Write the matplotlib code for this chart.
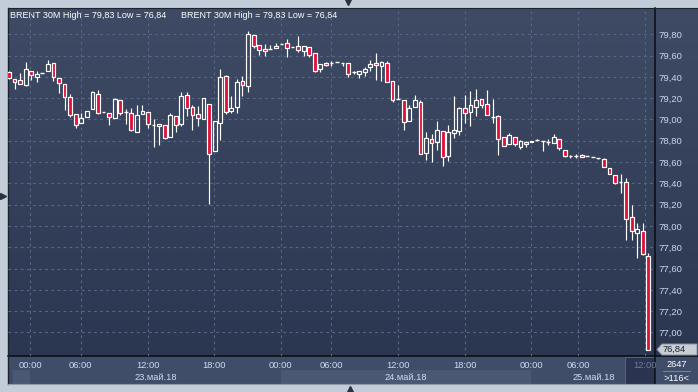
import numpy as np
import matplotlib
matplotlib.use('Agg')
import matplotlib.pyplot as plt
from matplotlib.patches import Rectangle, Polygon

# ---------------- data ----------------
opens = [79.45, 79.38, 79.37, 79.32, 79.46, 79.40, 79.44, 79.46, 79.53, 79.39,
         79.33, 79.21, 79.05, 78.97, 79.02, 79.10, 79.24, 79.07, 79.06, 79.01,
         79.18, 79.07, 79.06, 78.88, 79.05, 79.07, 78.95, 78.94, 78.95, 78.84,
         79.03, 78.96, 79.23, 79.12, 79.05, 79.00, 79.15, 78.70, 78.97, 79.41,
         79.08, 79.12, 79.36, 79.31, 79.79, 79.70, 79.66, 79.66, 79.67, 79.71,
         79.72, 79.68, 79.69, 79.64, 79.68, 79.62, 79.47, 79.53, 79.53, 79.54,
         79.53, 79.53, 79.45, 79.43, 79.45, 79.49, 79.53, 79.50, 79.53, 79.36,
         79.19, 79.18, 78.99, 79.12, 79.16, 78.69, 78.82, 78.79, 78.89, 78.66,
         78.87, 78.89, 79.11, 79.07, 79.12, 79.19, 79.15, 79.02, 79.03, 78.84,
         78.77, 78.84, 78.74, 78.79, 78.79, 78.81, 78.80, 78.79, 78.78, 78.82,
         78.71, 78.66, 78.66, 78.67, 78.66, 78.65, 78.64, 78.63, 78.54, 78.48,
         78.41, 78.41, 78.08, 77.93, 77.95, 77.72]
highs = [79.46, 79.38, 79.44, 79.54, 79.46, 79.46, 79.44, 79.56, 79.53, 79.39,
         79.33, 79.24, 79.05, 79.06, 79.08, 79.27, 79.28, 79.07, 79.06, 79.20,
         79.18, 79.10, 79.11, 79.14, 79.14, 79.07, 79.00, 78.96, 78.95, 79.06,
         79.03, 79.26, 79.26, 79.14, 79.13, 79.20, 79.15, 78.99, 79.47, 79.42,
         79.22, 79.38, 79.41, 79.83, 79.79, 79.70, 79.71, 79.70, 79.72, 79.71,
         79.76, 79.68, 79.78, 79.69, 79.68, 79.62, 79.52, 79.54, 79.55, 79.54,
         79.53, 79.53, 79.46, 79.46, 79.49, 79.56, 79.62, 79.55, 79.55, 79.36,
         79.32, 79.18, 79.14, 79.23, 79.18, 78.88, 78.86, 78.99, 78.89, 78.95,
         79.22, 79.12, 79.23, 79.27, 79.29, 79.19, 79.28, 79.19, 79.04, 78.84,
         78.87, 78.84, 78.81, 78.80, 78.80, 78.82, 78.80, 78.82, 78.86, 78.82,
         78.71, 78.67, 78.68, 78.68, 78.66, 78.65, 78.64, 78.64, 78.54, 78.48,
         78.49, 78.45, 78.20, 78.03, 78.03, 77.75]
lows = [79.38, 79.29, 79.33, 79.31, 79.37, 79.35, 79.44, 79.46, 79.36, 79.25,
        79.09, 79.02, 78.92, 78.97, 79.02, 79.10, 79.05, 79.07, 78.95, 79.01,
        79.04, 78.96, 78.89, 78.88, 79.05, 78.92, 78.74, 78.76, 78.82, 78.84,
        78.88, 78.94, 79.03, 78.90, 78.94, 79.00, 78.21, 78.70, 78.81, 79.05,
        79.06, 79.06, 79.22, 79.26, 79.67, 79.61, 79.60, 79.66, 79.67, 79.71,
        79.59, 79.68, 79.63, 79.60, 79.59, 79.45, 79.45, 79.50, 79.50, 79.54,
        79.50, 79.40, 79.43, 79.39, 79.41, 79.46, 79.37, 79.36, 79.35, 79.16,
        79.19, 78.90, 78.99, 79.12, 78.68, 78.62, 78.60, 78.71, 78.56, 78.61,
        78.83, 78.85, 78.97, 78.94, 79.03, 79.11, 79.04, 78.97, 78.67, 78.75,
        78.77, 78.75, 78.72, 78.74, 78.79, 78.80, 78.70, 78.76, 78.78, 78.71,
        78.65, 78.64, 78.64, 78.65, 78.66, 78.65, 78.63, 78.55, 78.49, 78.39,
        78.31, 77.87, 77.87, 77.70, 77.73, 76.84]
closes = [79.39, 79.35, 79.33, 79.47, 79.42, 79.43, 79.44, 79.52, 79.40, 79.34,
          79.21, 79.04, 78.95, 79.01, 79.08, 79.26, 79.06, 79.07, 79.02, 79.19,
          79.06, 79.07, 78.90, 79.04, 79.08, 78.96, 78.95, 78.96, 78.83, 79.04,
          78.95, 79.22, 79.11, 79.04, 79.01, 79.20, 78.68, 78.99, 79.40, 79.07,
          79.11, 79.35, 79.32, 79.80, 79.69, 79.65, 79.64, 79.66, 79.69, 79.71,
          79.67, 79.68, 79.65, 79.69, 79.61, 79.46, 79.52, 79.51, 79.53, 79.54,
          79.53, 79.43, 79.45, 79.46, 79.47, 79.52, 79.51, 79.54, 79.35, 79.18,
          79.19, 78.98, 79.11, 79.18, 78.68, 78.83, 78.78, 78.90, 78.65, 78.88,
          78.90, 79.11, 79.06, 79.14, 79.18, 79.14, 79.04, 79.02, 78.82, 78.75,
          78.85, 78.77, 78.80, 78.77, 78.80, 78.81, 78.80, 78.79, 78.84, 78.73,
          78.66, 78.66, 78.66, 78.65, 78.66, 78.65, 78.64, 78.55, 78.49, 78.40,
          78.41, 78.07, 77.95, 77.97, 77.74, 76.84]

time_labels = ['00:00', '06:00', '12:00', '18:00', '00:00', '06:00',
               '12:00', '18:00', '00:00', '06:00', '12:00']
date_labels = ['23.май.18', '24.май.18', '25.май.18']
price_ticks = [77.0, 77.2, 77.4, 77.6, 77.8, 78.0, 78.2, 78.4, 78.6, 78.8,
               79.0, 79.2, 79.4, 79.6, 79.8]
title = 'BRENT 30M High = 79,83 Low = 76,84'
last_price = 76.84
bars_total = 2647
bars_visible = 116

# ---------------- layout (pixels) ----------------
tick_pos = [3.8, 12.9, 25.0, 36.9, 48.9, 57.9, 70.0, 82.0, 93.9, 102.4, 114.4]
day_bounds = [(3.8, 48.9), (48.9, 93.9), (93.9, 116.5)]
W, H = 698, 392
L, R, T, B = 8, 655, 8, 356
XLIM = (-0.18, 116.2)
YLIM = (76.779, 80.047)
FONT = 'Liberation Sans'

fig = plt.figure(figsize=(W / 100, H / 100), dpi=100)
fig.patch.set_facecolor('#c2cdd9')

# decoration axes in pixel coordinates
deco = fig.add_axes([0, 0, 1, 1], zorder=-1)
deco.set_xlim(0, W)
deco.set_ylim(H, 0)
deco.axis('off')

top_c = np.array([63, 75, 100]) / 255
bot_c = np.array([43, 54, 80]) / 255
t = np.linspace(0, 1, 256)[:, None]
grad = (top_c[None, :] * (1 - t) + bot_c[None, :] * t)[:, None, :]
deco.imshow(grad, extent=(L, W, B, T), aspect='auto', interpolation='bilinear', zorder=0)

# bottom panel
deco.add_patch(Rectangle((L, B), W - L, 384 - B, facecolor='#3f4d68', edgecolor='none', zorder=1))
deco.add_patch(Rectangle((13, 370), 30 - 13, 14, facecolor='#4b5873', edgecolor='none', zorder=1))
deco.add_patch(Rectangle((281, 370), 250, 14, facecolor='#4b5873', edgecolor='none', zorder=1))
deco.add_patch(Rectangle((625, B + 1), 30, 384 - B - 1, facecolor='#2a3450', edgecolor='#56647e', lw=0.7, zorder=2))
# frame lines
deco.plot([L, W], [B, B], color='#0a0c12', lw=1.1, zorder=3)
deco.plot([R, R], [T, 384], color='#0a0c12', lw=1.1, zorder=3)
deco.plot([L, L], [T, 384], color='#1c2230', lw=1.0, zorder=3)
deco.plot([L, W], [T, T], color='#1c2230', lw=0.8, zorder=3)
deco.plot([L, W], [384, 384], color='#8e9aab', lw=0.8, zorder=3)
# counter box
deco.plot([663, 690], [371, 371], color='#8090a8', lw=0.6, zorder=3)
deco.text(676.5, 364.5, str(bars_total), color='white', fontsize=6.7,
          family=FONT, ha='center', va='center', zorder=4)
deco.text(676.5, 378.5, '>' + str(bars_visible) + '<', color='white', fontsize=6.7,
          family=FONT, ha='center', va='center', zorder=4)
# small markers
deco.plot([348], [2], marker='v', color='#2a3040', markersize=4, zorder=4)
deco.plot([2.5], [196], marker='>', color='#2a3040', markersize=5, zorder=4)
deco.plot([350], [389], marker='^', color='#2a3040', markersize=5, zorder=4)

# title texts
for x0 in (10, 181):
    deco.text(x0, 15.5, title, color='white', fontsize=6.5, family=FONT,
              ha='left', va='center', zorder=4)

# ---------------- main axes ----------------
ax = fig.add_axes([L / W, 1 - B / H, (R - L) / W, (B - T) / H], zorder=1)
ax.set_facecolor('none')
ax.set_xlim(*XLIM)
ax.set_ylim(*YLIM)
for s in ax.spines.values():
    s.set_visible(False)

grid_c = '#566685'
for v in price_ticks:
    ax.axhline(v, color=grid_c, lw=0.8, ls=(0, (2.5, 3)), zorder=0)
for xp in tick_pos:
    ax.axvline(xp, color=grid_c, lw=0.8, ls=(0, (2.5, 3)), zorder=0)

ax.yaxis.tick_right()
ax.set_yticks(price_ticks)
ax.set_yticklabels([f'{v:.2f}'.replace('.', ',') for v in price_ticks])
ax.tick_params(axis='y', length=0, pad=2.5, labelcolor='#c9d8ee', labelsize=6.8)
for lab in ax.get_yticklabels():
    lab.set_family(FONT)

ax.set_xticks(tick_pos)
ax.set_xticklabels(time_labels)
ax.tick_params(axis='x', length=0, pad=3.5, labelcolor='#d0dcee', labelsize=6.7)
for k, lab in enumerate(ax.get_xticklabels()):
    lab.set_family(FONT)
    if k == len(time_labels) - 1:
        lab.set_color('#6f7f99')

# date labels
trans = matplotlib.transforms.blended_transform_factory(ax.transData, fig.transFigure)
for (a, b), lab in zip(day_bounds, date_labels):
    ax.text((a + b) / 2, 1 - 378 / H, lab, transform=trans, color='#d0dcee', fontsize=6.7,
            family=FONT, ha='center', va='center', clip_on=False)

# candles
red = '#e0103a'
bw = 0.68
lw = 0.85
for i, (o, h, l, c) in enumerate(zip(opens, highs, lows, closes)):
    top = max(o, c)
    bot = min(o, c)
    if h > top:
        ax.plot([i, i], [top, h], color='white', lw=lw, solid_capstyle='butt', zorder=2)
    if l < bot:
        ax.plot([i, i], [l, bot], color='white', lw=lw, solid_capstyle='butt', zorder=2)
    if top - bot < 0.005:
        ax.plot([i - bw / 2, i + bw / 2], [c, c], color='white', lw=1.0, solid_capstyle='butt', zorder=3)
    else:
        fc = red if c < o else 'none'
        ax.add_patch(Rectangle((i - bw / 2, bot), bw, top - bot, facecolor=fc,
                               edgecolor='white', lw=lw, zorder=3))

# last price tag
ytag = ax.transData.transform((0, last_price))[1]
ytag_px = H - ytag
tag = Polygon([[657, ytag_px], [662, ytag_px - 5.5], [697, ytag_px - 5.5],
               [697, ytag_px + 5.5], [662, ytag_px + 5.5]], closed=True,
              facecolor='#c9cdd4', edgecolor='#8a93a3', lw=0.7, zorder=5)
deco2 = fig.add_axes([0, 0, 1, 1], zorder=3)
deco2.set_xlim(0, W)
deco2.set_ylim(H, 0)
deco2.axis('off')
deco2.add_patch(tag)
deco2.text(663, ytag_px, f'{last_price:.2f}'.replace('.', ','), color='#1a2232', fontsize=6.7,
           family=FONT, ha='left', va='center', zorder=6)

fig.savefig('out.png', dpi=100, facecolor=fig.get_facecolor())
